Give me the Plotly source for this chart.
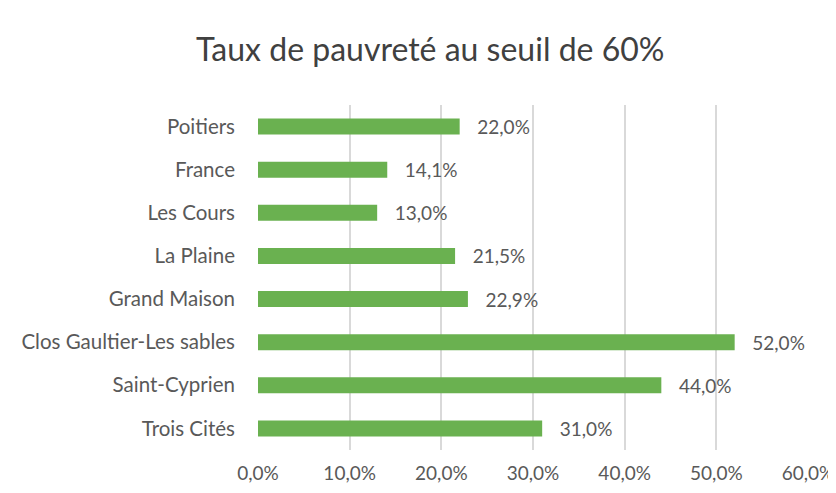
import plotly.graph_objects as go

categories = ["Poitiers", "France", "Les Cours", "La Plaine", "Grand Maison",
              "Clos Gaultier-Les sables", "Saint-Cyprien", "Trois Cités"]
values = [0.220, 0.141, 0.130, 0.215, 0.229, 0.520, 0.440, 0.310]
tick_vals = [0, 0.1, 0.2, 0.3, 0.4, 0.5, 0.6]

FONT = "Lato, Open Sans, sans-serif"
GRAY = "#595959"

# The page body has an 8px default margin, so the figure is sized to fit the window.
fig = go.Figure(go.Bar(
    x=values, y=categories, orientation="h",
    marker=dict(color="#6ab150", line=dict(width=0)),
    texttemplate="\u00a0\u00a0\u00a0%{x:.1%}", textposition="outside", constraintext="none",
    textfont=dict(family=FONT, size=19, color=GRAY),
    cliponaxis=False, width=0.37,
))

fig.update_layout(
    width=828, height=485,
    margin=dict(l=250, r=28, t=97, b=43),
    paper_bgcolor="white", plot_bgcolor="white",
    separators=", ",
    title=dict(text="Taux de pauvreté au seuil de 60%", x=0.51, xanchor="center",
               y=0.913, yanchor="middle",
               font=dict(family=FONT, size=32, color="#404040")),
    xaxis=dict(range=[0, 0.6], tickvals=tick_vals, tickformat=".1%",
               showgrid=True, gridcolor="#d9d9d9", gridwidth=1.5,
               zeroline=False, showline=False, ticks="", automargin=False,
               tickfont=dict(family=FONT, size=19, color=GRAY),
               ticklabelstandoff=10),
    yaxis=dict(autorange="reversed", showgrid=False, zeroline=False,
               showline=False, ticks="", ticklabelstandoff=22, automargin=False,
               tickfont=dict(family=FONT, size=20.5, color=GRAY)),
    showlegend=False,
)

fig.write_html("out.html")
